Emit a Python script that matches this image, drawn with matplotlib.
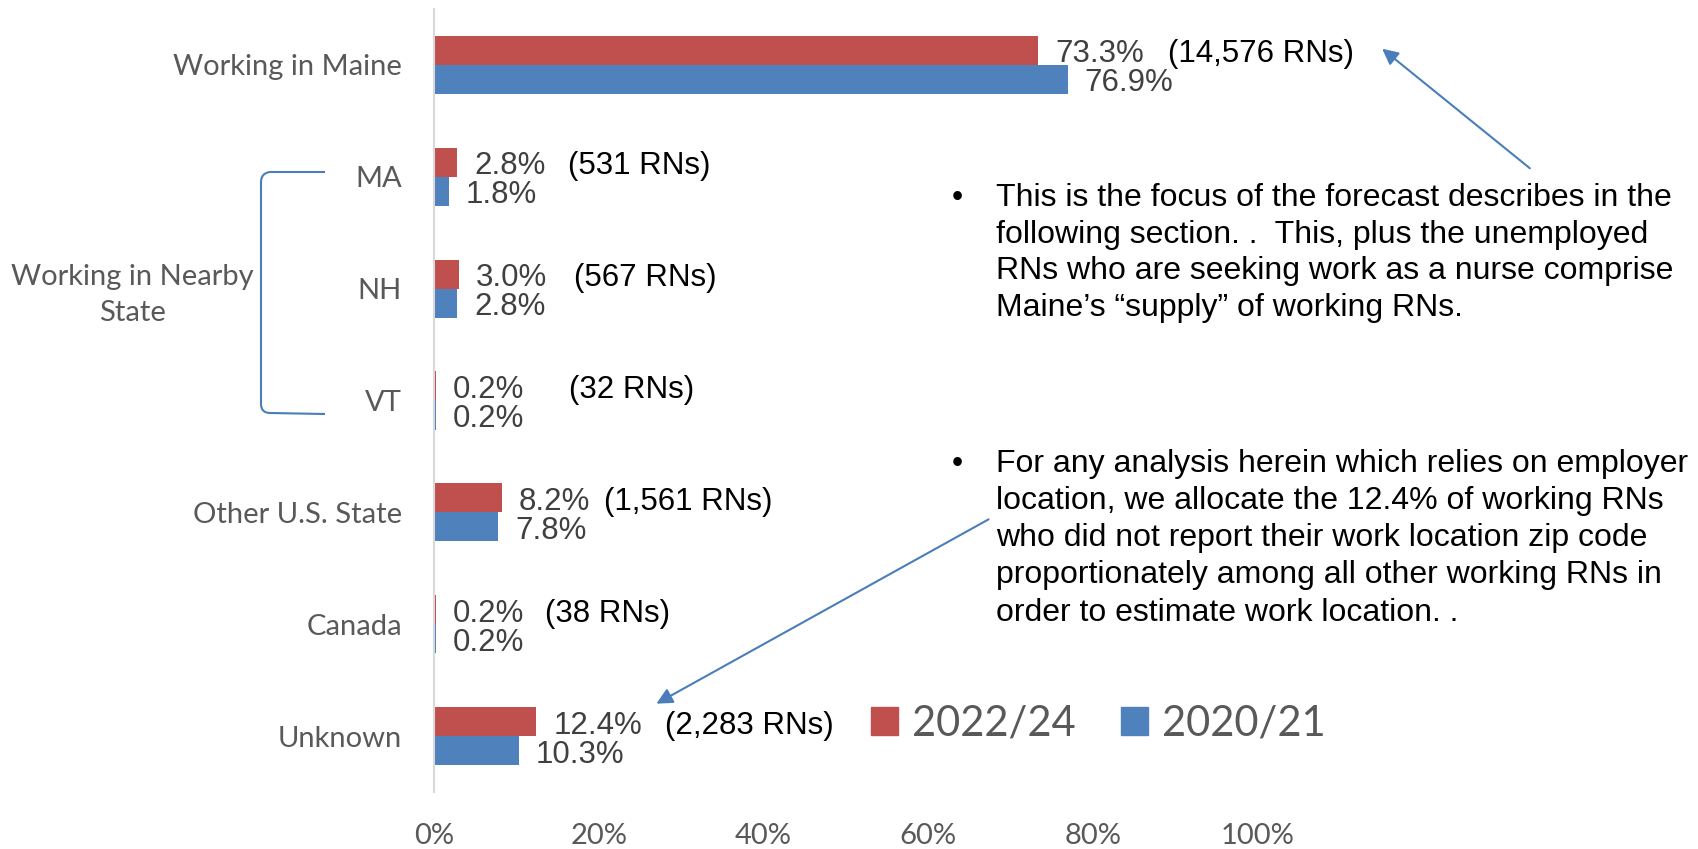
import matplotlib.pyplot as plt
import numpy as np
from matplotlib.patches import Patch, PathPatch
from matplotlib.path import Path

################################################# DATA

categories = ['Working in Maine', 'MA', 'NH', 'VT', 'Other U.S. State', 'Canada', 'Unknown']
pct_2022 = [73.3, 2.8, 3.0, 0.2, 8.2, 0.2, 12.4]     # 2022/24 share of working RNs
pct_2020 = [76.9, 1.8, 2.8, 0.2, 7.8, 0.2, 10.3]     # 2020/21 share of working RNs
rn_counts = ['14,576', '531', '567', '32', '1,561', '38', '2,283']
series_names = ['2022/24', '2020/21']
xticks = [0, 20, 40, 60, 80, 100]

note1 = ('This is the focus of the forecast describes in the\n'
         'following section. .  This, plus the unemployed\n'
         'RNs who are seeking work as a nurse comprise\n'
         'Maine\u2019s \u201csupply\u201d of working RNs.')
note2 = ('For any analysis herein which relies on employer\n'
         'location, we allocate the 12.4% of working RNs\n'
         'who did not report their work location zip code\n'
         'proportionately among all other working RNs in\n'
         'order to estimate work location. .')

################################################# STYLE

RED = '#C0504D'
BLUE = '#4F81BD'
GRAY = '#595959'
DARK = '#404040'
LINE = '#4A7EBB'
CAL = ['Lato', 'DejaVu Sans']          # stand-in for Calibri
ARIAL = ['Liberation Sans', 'DejaVu Sans']

W, H = 1698, 849
def fp(x, y):                          # figure pixel (top-left origin) -> figure fraction
    return (x / W, 1 - y / H)

rn_xpos = [89.1, 16.3, 17.0, 16.4, 20.6, 13.5, 28.0]   # where the "(n RNs)" boxes sit

################################################# PLOT

fig = plt.figure(figsize=(W / 100, H / 100), dpi=100)
ax = fig.add_axes([434 / W, 1 - 792 / H, 824 / W, 783 / H])

y = np.arange(len(categories))
h = 0.26
ax.barh(y - h / 2, pct_2022, height=h, color=RED)
ax.barh(y + h / 2, pct_2020, height=h, color=BLUE)
ax.set_ylim(len(categories) - 0.5, -0.5)
ax.set_xlim(0, 100)

# value labels
for i in range(len(categories)):
    ax.annotate('%.1f%%' % pct_2022[i], xy=(pct_2022[i], y[i] - h / 2), xytext=(17, -4),
                textcoords='offset pixels', ha='left', va='center',
                fontsize=22.5, color=DARK, family=ARIAL)
    ax.annotate('%.1f%%' % pct_2020[i], xy=(pct_2020[i], y[i] + h / 2), xytext=(17, -4),
                textcoords='offset pixels', ha='left', va='center',
                fontsize=22.5, color=DARK, family=ARIAL)
    ax.annotate('(%s RNs)' % rn_counts[i], xy=(rn_xpos[i], y[i] - h / 2), xytext=(0, -4),
                textcoords='offset pixels', ha='left', va='center',
                fontsize=22.5, color='black', family=ARIAL, annotation_clip=False)

# axes cosmetics
for s in ['top', 'right', 'bottom']:
    ax.spines[s].set_visible(False)
ax.spines['left'].set_color('#D9D9D9')
ax.spines['left'].set_linewidth(1.5)
ax.set_xticks(xticks, ['%d%%' % t for t in xticks])
ax.set_yticks(y, categories)
ax.tick_params(axis='x', length=0, pad=22, labelsize=21, labelcolor=GRAY)
ax.tick_params(axis='y', length=0, pad=23, labelsize=21, labelcolor=GRAY)
for lab in ax.get_xticklabels() + ax.get_yticklabels():
    lab.set_family(CAL)

# group label and bracket
fig.text(*fp(132, 295), 'Working in Nearby\nState', ha='center', va='center',
         fontsize=21, color=GRAY, family=CAL, linespacing=1.45)
verts = [fp(325, 172), fp(270, 172), fp(261, 173), fp(261, 182), fp(261, 404),
         fp(261, 413), fp(270, 413), fp(325, 414)]
codes = [Path.MOVETO, Path.LINETO, Path.CURVE3, Path.CURVE3, Path.LINETO,
         Path.CURVE3, Path.CURVE3, Path.LINETO]
fig.add_artist(PathPatch(Path(verts, codes), transform=fig.transFigure,
                         fill=False, edgecolor=LINE, lw=1.5))

# legend
handles = [Patch(color=RED), Patch(color=BLUE)]
leg = fig.legend(handles, series_names, loc='center left', bbox_to_anchor=fp(871, 724),
                 ncol=2, frameon=False, handlelength=0.65, handleheight=0.65,
                 handletextpad=0.34, columnspacing=1.08, borderpad=0, borderaxespad=0,
                 prop={'family': CAL, 'size': 30})
for t in leg.get_texts():
    t.set_color(GRAY)

# notes
fig.text(*fp(952, 183), '\u2022', ha='left', va='top', fontsize=23, family=ARIAL)
fig.text(*fp(996, 183), note1, ha='left', va='top', fontsize=23, family=ARIAL,
         linespacing=1.29)
fig.text(*fp(952, 449), '\u2022', ha='left', va='top', fontsize=23, family=ARIAL)
fig.text(*fp(996, 449), note2, ha='left', va='top', fontsize=23, family=ARIAL,
         linespacing=1.31)

# arrows
ax.annotate('', xy=(1380, H - 47), xytext=(1532, H - 170), xycoords='figure pixels',
            arrowprops=dict(arrowstyle='-|>', color=LINE, lw=1.5, mutation_scale=24))
ax.annotate('', xy=(654, H - 705), xytext=(991, H - 518), xycoords='figure pixels',
            arrowprops=dict(arrowstyle='-|>', color=LINE, lw=1.5, mutation_scale=24))

fig.savefig('out.png', dpi=100)
